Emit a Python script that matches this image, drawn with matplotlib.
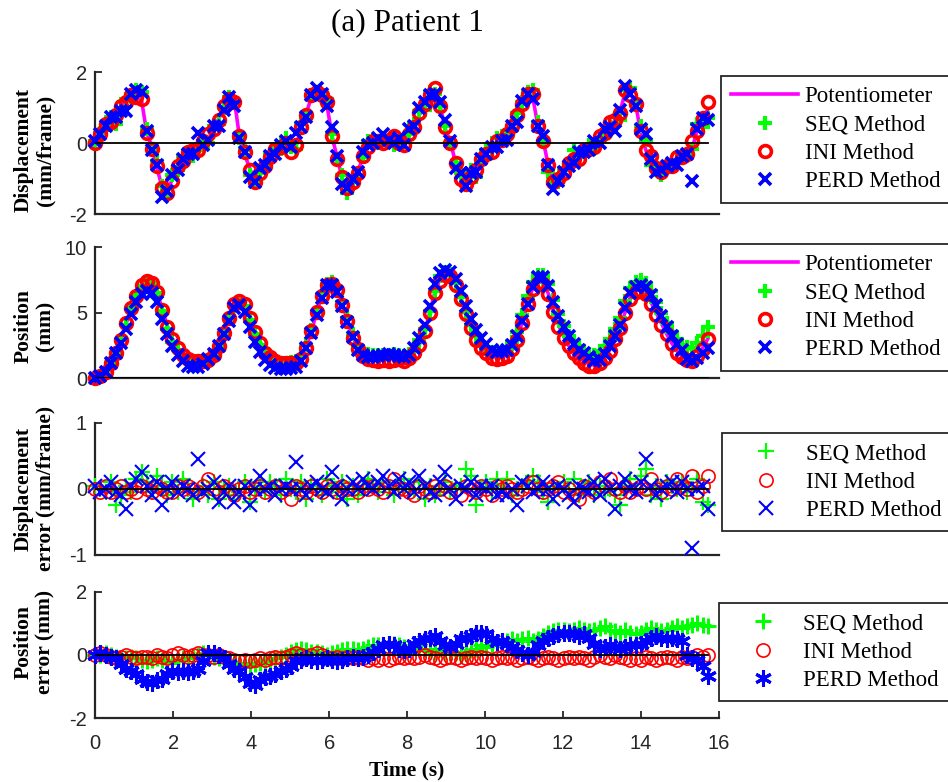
import numpy as np
import matplotlib
matplotlib.use("Agg")
import matplotlib.pyplot as plt

plt.rcParams['axes.unicode_minus'] = False

# ---------------- data ----------------
dt = 0.132
n_frames = 120

pot_disp = [
    0.0, 0.3, 0.5, 0.65, 0.8, 1.0, 1.2, 1.35, 1.35, 1.2,
    0.3, -0.1, -0.7, -1.25, -1.35, -1.0, -0.7, -0.5, -0.3, -0.2,
    -0.15, 0.0, 0.1, 0.4, 0.7, 1.0, 1.25, 1.25, 0.2, -0.3,
    -0.7, -1.1, -0.9, -0.6, -0.4, -0.2, -0.05, 0.0, -0.1, -0.1,
    0.45, 0.85, 1.3, 1.45, 1.4, 1.1, 0.2, -0.4, -1.0, -1.25,
    -1.1, -0.8, -0.4, -0.1, 0.0, 0.05, 0.05, 0.05, 0.05, 0.0,
    -0.05, 0.3, 0.55, 0.8, 1.1, 1.4, 1.5, 1.05, 0.4, 0.05,
    -0.55, -0.9, -1.2, -0.95, -0.7, -0.5, -0.3, -0.15, 0.0, 0.1,
    0.2, 0.5, 0.85, 1.1, 1.35, 1.3, 0.5, 0.1, -0.6, -1.15,
    -1.1, -0.8, -0.55, -0.35, -0.3, -0.25, -0.15, -0.05, 0.1, 0.25,
    0.45, 0.65, 0.9, 1.45, 1.4, 1.1, 0.3, -0.2, -0.5, -0.7,
    -0.75, -0.7, -0.65, -0.55, -0.45, -0.3, -0.15, 0.4, 0.65, 0.95,
]

pot_pos = [
    0.0, 0.1, 0.5, 1.2, 2.0, 3.0, 4.2, 5.4, 6.4, 7.2,
    7.5, 7.4, 6.6, 5.3, 4.0, 3.0, 2.3, 1.8, 1.5, 1.35,
    1.3, 1.3, 1.4, 1.8, 2.5, 3.5, 4.7, 5.8, 6.1, 5.8,
    4.8, 3.7, 2.8, 2.1, 1.7, 1.4, 1.25, 1.2, 1.15, 1.1,
    1.5, 2.4, 3.6, 5.0, 6.3, 7.2, 7.3, 6.8, 5.7, 4.4,
    3.2, 2.3, 1.8, 1.6, 1.5, 1.5, 1.5, 1.5, 1.5, 1.5,
    1.45, 1.6, 2.0, 2.6, 3.6, 5.0, 6.6, 7.6, 8.0, 7.9,
    7.2, 6.2, 5.0, 3.9, 3.0, 2.4, 2.0, 1.7, 1.6, 1.6,
    1.8, 2.3, 3.1, 4.3, 5.7, 6.9, 7.4, 7.3, 6.5, 5.2,
    4.1, 3.2, 2.5, 2.0, 1.6, 1.3, 1.1, 1.0, 1.2, 1.6,
    2.2, 3.0, 3.9, 5.1, 6.2, 6.7, 6.8, 6.5, 5.8, 5.0,
    4.2, 3.4, 2.7, 2.1, 1.7, 1.5, 1.4, 1.7, 2.3, 3.0,
]

seq_disp_err = [
    0.05, 0.0, -0.05, 0.1, -0.25, -0.1, 0.05, -0.05, 0.15, 0.25,
    0.1, -0.05, 0.2, 0.05, -0.1, 0.1, -0.05, 0.15, 0.0, -0.15,
    -0.05, 0.05, -0.1, 0.1, -0.15, 0.0, 0.05, -0.1, -0.05, 0.1,
    -0.2, 0.0, 0.05, -0.05, 0.1, 0.05, -0.1, 0.15, 0.0, -0.05,
    0.1, -0.15, 0.05, 0.0, -0.1, 0.15, 0.05, -0.05, 0.1, -0.15,
    0.05, -0.1, 0.0, 0.15, 0.05, -0.05, 0.1, 0.0, -0.1, 0.05,
    0.15, -0.05, 0.0, 0.1, -0.15, 0.05, -0.1, 0.0, 0.1, -0.05,
    0.0, 0.05, 0.3, 0.2, -0.25, 0.0, 0.1, -0.05, 0.15, 0.05,
    0.15, -0.1, 0.0, 0.05, 0.1, 0.2, 0.1, -0.05, -0.2, 0.05,
    0.0, 0.1, -0.05, 0.15, -0.1, 0.0, 0.1, -0.1, 0.05, -0.05,
    0.0, -0.1, -0.25, 0.05, 0.15, 0.0, 0.2, 0.3, -0.1, 0.05,
    -0.15, 0.1, 0.05, 0.0, 0.1, -0.05, 0.0, 0.15, -0.2, -0.25,
]

ini_disp_err = [
    0.0, -0.05, 0.05, -0.05, 0.0, 0.05, -0.05, 0.0, -0.05, 0.05,
    0.0, -0.05, 0.05, 0.0, -0.05, -0.05, 0.05, 0.0, 0.05, 0.0,
    -0.05, 0.05, 0.15, 0.0, -0.05, 0.05, 0.0, -0.1, 0.0, 0.05,
    -0.05, 0.0, 0.05, -0.05, 0.0, 0.05, -0.05, 0.0, -0.15, 0.05,
    0.0, -0.05, 0.05, 0.0, -0.05, 0.05, 0.0, -0.05, 0.05, 0.0,
    0.0, -0.05, 0.05, 0.0, 0.05, 0.0, -0.05, 0.05, 0.15, 0.0,
    0.0, -0.05, -0.1, 0.05, 0.0, -0.05, 0.05, 0.0, 0.05, -0.05,
    0.0, -0.1, 0.05, 0.0, -0.05, 0.05, 0.0, -0.1, 0.05, 0.0,
    0.05, 0.0, -0.05, 0.0, 0.05, 0.1, 0.0, -0.05, 0.0, 0.05,
    0.1, -0.05, 0.0, -0.1, -0.15, 0.05, 0.0, -0.05, 0.1, 0.05,
    0.15, 0.0, -0.05, 0.05, -0.05, 0.0, 0.05, 0.0, 0.15, 0.0,
    -0.05, 0.05, 0.0, 0.15, 0.05, 0.0, 0.2, -0.05, 0.05, 0.2,
]

perd_disp_err = [
    0.05, -0.05, 0.0, 0.1, -0.05, -0.1, -0.3, 0.05, 0.15, 0.25,
    0.05, -0.1, 0.1, -0.25, 0.0, 0.1, -0.05, 0.05, 0.0, -0.1,
    0.45, -0.05, 0.0, 0.1, -0.2, -0.05, 0.05, -0.2, -0.05, 0.05,
    -0.25, 0.0, 0.2, 0.0, 0.05, -0.1, 0.0, 0.05, 0.0, 0.4,
    0.0, -0.1, 0.05, 0.1, 0.0, -0.05, 0.25, 0.05, -0.15, 0.0,
    0.1, 0.0, 0.15, 0.05, 0.0, 0.1, 0.2, 0.05, -0.05, 0.15,
    0.0, 0.1, -0.05, 0.2, 0.05, -0.05, -0.1, 0.1, 0.25, 0.0,
    -0.15, 0.05, 0.0, 0.1, -0.1, 0.05, 0.0, 0.05, -0.1, -0.05,
    -0.1, 0.0, -0.25, 0.1, 0.05, -0.05, 0.0, 0.1, 0.0, -0.15,
    0.05, 0.0, -0.1, -0.2, 0.05, 0.0, -0.05, 0.1, -0.1, 0.15,
    0.0, -0.3, 0.05, 0.15, 0.0, -0.05, 0.1, 0.45, 0.05, -0.1,
    0.0, 0.05, 0.1, -0.05, 0.1, 0.0, -0.9, 0.0, 0.05, -0.3,
]

seq_pos_err = [
    0.0, 0.0, 0.05, 0.0, -0.05, -0.1, -0.1, -0.05, -0.1, -0.15,
    -0.2, -0.15, -0.1, -0.15, -0.2, -0.25, -0.15, -0.1, -0.1, -0.05,
    0.0, 0.05, 0.0, -0.05, -0.1, -0.15, -0.2, -0.25, -0.3, -0.25,
    -0.35, -0.3, -0.25, -0.2, -0.15, -0.1, -0.05, 0.0, 0.1, 0.15,
    0.2, 0.15, 0.1, 0.1, 0.05, 0.0, 0.05, 0.1, 0.15, 0.2,
    0.2, 0.15, 0.2, 0.25, 0.3, 0.3, 0.25, 0.3, 0.35, 0.3,
    0.25, 0.2, 0.25, 0.3, 0.2, 0.15, 0.1, 0.2, 0.1, 0.05,
    0.1, 0.0, 0.05, 0.15, 0.2, 0.3, 0.25, 0.3, 0.35, 0.4,
    0.45, 0.5, 0.45, 0.5, 0.55, 0.45, 0.5, 0.6, 0.7, 0.75,
    0.8, 0.8, 0.75, 0.8, 0.85, 0.8, 0.75, 0.8, 0.85, 0.9,
    0.8, 0.75, 0.7, 0.8, 0.7, 0.65, 0.7, 0.8, 0.85, 0.8,
    0.75, 0.8, 0.85, 0.9, 0.85, 0.9, 0.95, 1.0, 0.95, 0.9,
]

ini_pos_err = [
    0.0, 0.05, 0.0, -0.05, -0.1, -0.05, 0.0, -0.05, -0.1, -0.05,
    -0.05, -0.1, 0.0, -0.05, -0.1, 0.0, 0.05, 0.0, -0.05, 0.0,
    0.05, 0.0, 0.0, -0.05, 0.0, -0.05, -0.1, -0.15, -0.2, -0.15,
    -0.2, -0.15, -0.1, -0.15, -0.1, -0.05, -0.1, -0.05, 0.0, 0.05,
    0.0, -0.05, 0.0, 0.05, 0.0, -0.05, -0.1, -0.05, -0.1, -0.05,
    -0.1, -0.05, -0.1, -0.15, -0.1, -0.15, -0.1, -0.15, -0.1, -0.05,
    -0.1, -0.05, -0.1, -0.05, 0.0, -0.05, -0.1, -0.15, -0.1, -0.05,
    -0.1, -0.15, -0.1, -0.05, -0.1, -0.05, -0.1, -0.15, -0.1, -0.05,
    -0.1, -0.05, -0.15, -0.1, -0.05, -0.1, -0.15, -0.1, -0.05, -0.1,
    -0.15, -0.1, -0.05, -0.1, -0.05, -0.1, -0.15, -0.05, 0.0, -0.05,
    -0.1, 0.0, -0.05, -0.1, -0.15, -0.1, -0.15, -0.05, -0.1, -0.15,
    -0.1, -0.05, -0.1, -0.15, -0.05, -0.1, -0.05, 0.0, -0.05, 0.0,
]

perd_pos_err = [
    0.0, 0.05, 0.0, -0.05, -0.1, -0.3, -0.45, -0.5, -0.6, -0.75,
    -0.85, -0.9, -0.8, -0.75, -0.6, -0.5, -0.55, -0.5, -0.55, -0.5,
    -0.45, -0.2, 0.05, 0.05, 0.0, -0.1, -0.3, -0.45, -0.5, -0.7,
    -0.9, -0.95, -0.8, -0.7, -0.65, -0.6, -0.5, -0.45, -0.35, -0.2,
    -0.15, -0.1, -0.15, -0.2, -0.15, -0.1, -0.15, -0.2, -0.15, -0.1,
    -0.05, -0.1, -0.05, 0.0, 0.1, 0.2, 0.3, 0.35, 0.3, 0.2,
    0.15, 0.2, 0.35, 0.45, 0.5, 0.55, 0.6, 0.45, 0.3, 0.25,
    0.35, 0.5, 0.55, 0.6, 0.7, 0.7, 0.65, 0.5, 0.4, 0.45,
    0.35, 0.25, 0.15, 0.05, 0.0, 0.1, 0.3, 0.45, 0.55, 0.6,
    0.65, 0.7, 0.7, 0.65, 0.6, 0.65, 0.55, 0.35, 0.2, 0.25,
    0.3, 0.25, 0.2, 0.25, 0.3, 0.3, 0.35, 0.45, 0.55, 0.6,
    0.55, 0.5, 0.55, 0.5, 0.45, 0.0, -0.1, -0.15, -0.35, -0.65,
]

labels = ["Potentiometer", "SEQ Method", "INI Method", "PERD Method"]
ylabels = ["Displacement\n(mm/frame)", "Position\n(mm)",
           "Displacement\nerror (mm/frame)", "Position\nerror (mm)"]
title = "(a) Patient 1"
xlabel = "Time (s)"

# ---------------- derived arrays ----------------
t = np.arange(n_frames) * dt
pot_disp = np.array(pot_disp)
pot_pos = np.array(pot_pos)
seq_de, ini_de, perd_de = map(np.array, (seq_disp_err, ini_disp_err, perd_disp_err))
seq_pe, ini_pe, perd_pe = map(np.array, (seq_pos_err, ini_pos_err, perd_pos_err))

SERIF = ["Liberation Serif", "DejaVu Serif"]
SANS = ["Liberation Sans", "DejaVu Sans"]
DARK = "#262626"
GREEN = "#00FF00"
RED = "#FF0000"
BLUE = "#0000FF"
MAG = "#FF00FF"

fig = plt.figure(figsize=(9.48, 7.82), dpi=100)
L, W = 0.1005, 0.658
rects = [(0.7260, 0.1816), (0.5162, 0.1675), (0.2903, 0.1692), (0.0815, 0.1619)]
axes = [fig.add_axes([L, b, W, h]) for b, h in rects]

ylims = [(-2, 2), (0, 10), (-1, 1), (-2, 2)]
yticks = [[-2, 0, 2], [0, 5, 10], [-1, 0, 1], [-2, 0, 2]]
ylabel_y = [0.45, 0.40, 0.50, 0.60]
leg_tops = [0.9028, 0.6880, 0.4463, 0.2289]
leg_lefts = [0.7606, 0.7606, 0.7616, 0.7585]

thick = dict(linestyle="none", clip_on=False)

for k, ax in enumerate(axes):
    if k in (0, 1):
        pot = pot_disp if k == 0 else pot_pos
        seq = pot + (seq_de if k == 0 else seq_pe)
        ini = pot + (ini_de if k == 0 else ini_pe)
        perd = pot + (perd_de if k == 0 else perd_pe)
        h0, = ax.plot(t, pot, color=MAG, lw=2.6, zorder=2)
        h1, = ax.plot(t, seq, marker="+", color=GREEN, ms=9.5, mew=3, zorder=3, **thick)
        h2, = ax.plot(t, ini, marker="o", mfc="none", mec=RED, ms=8.5, mew=2.6, zorder=4, **thick)
        h3, = ax.plot(t, perd, marker="x", color=BLUE, ms=8, mew=2.6, zorder=5, **thick)
        handles = [h0, h1, h2, h3]
        labs = labels
    elif k == 2:
        h1, = ax.plot(t, seq_de, marker="+", color=GREEN, ms=11.5, mew=1.6, zorder=3, **thick)
        h2, = ax.plot(t, ini_de, marker="o", mfc="none", mec=RED, ms=9.5, mew=1.2, zorder=4, **thick)
        h3, = ax.plot(t, perd_de, marker="x", color=BLUE, ms=10, mew=1.5, zorder=5, **thick)
        handles = [h1, h2, h3]
        labs = labels[1:]
    else:
        h1, = ax.plot(t, seq_pe, marker="+", color=GREEN, ms=12, mew=2.2, zorder=3, **thick)
        h2, = ax.plot(t, ini_pe, marker="o", mfc="none", mec=RED, ms=9.5, mew=1.2, zorder=4, **thick)
        h3, = ax.plot(t, perd_pe, marker=(6, 2, 0), color=BLUE, ms=12, mew=2.2, zorder=5, **thick)
        handles = [h1, h2, h3]
        labs = labels[1:]

    ax.plot(t, np.zeros_like(t), color="black", lw=1.3, zorder=10)

    ax.set_xlim(0, 16)
    ax.set_ylim(*ylims[k])
    ax.set_yticks(yticks[k])
    for s in ("top", "right"):
        ax.spines[s].set_visible(False)
    for s in ("left", "bottom"):
        ax.spines[s].set_color(DARK)
        ax.spines[s].set_linewidth(1.6)
    ax.tick_params(direction="in", length=5, width=1.3, color=DARK,
                   labelcolor=DARK, labelsize=14.5, pad=6)
    if k < 3:
        ax.tick_params(axis="x", bottom=False, labelbottom=False)
    else:
        ax.set_xticks(np.arange(0, 17, 2))
        ax.tick_params(axis="x", pad=11)
        ax.set_xlabel(xlabel, fontsize=15.5, fontweight="bold", family=SERIF, labelpad=6)
    for lab in ax.get_yticklabels() + ax.get_xticklabels():
        lab.set_fontfamily(SANS)

    ax.set_ylabel(ylabels[k], fontsize=15.5, fontweight="bold", family=SERIF,
                  linespacing=1.15, ha="center", va="center")
    ax.yaxis.set_label_coords(-0.0975, ylabel_y[k])

    leg = ax.legend(handles, labs, loc="upper left",
                    bbox_to_anchor=(leg_lefts[k], leg_tops[k]),
                    bbox_transform=fig.transFigure, borderaxespad=0,
                    frameon=True, fancybox=False, framealpha=1,
                    edgecolor=DARK, numpoints=1, handlelength=2.9,
                    handletextpad=0.3, labelspacing=0.32, borderpad=0.45,
                    prop={"family": SERIF, "size": 16.5})
    leg.get_frame().set_linewidth(1.3)

fig.text(0.4295, 0.9715, title, ha="center", va="center",
         fontsize=22.5, family=SERIF)

fig.savefig("out.png", dpi=100)
